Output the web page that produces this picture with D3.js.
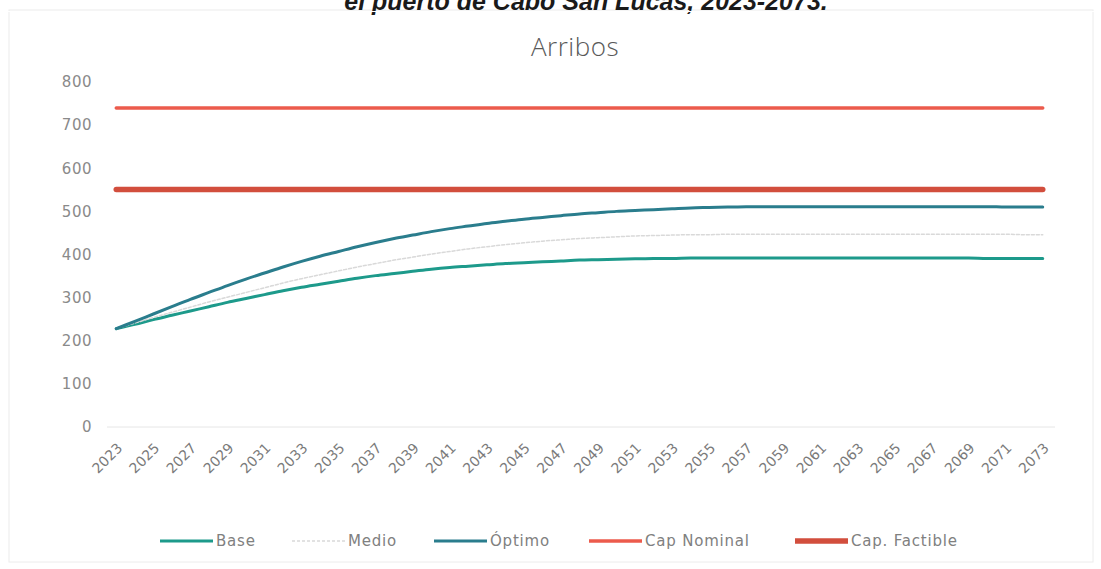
<!DOCTYPE html>
<html><head><meta charset="utf-8">
<script src="https://cdn.jsdelivr.net/npm/d3@7"></script>
<style>html,body{margin:0;padding:0;background:#fff;}svg{display:block;}</style>
</head><body>
<svg id="c" width="1101" height="569"></svg>
<script>
const years = d3.range(2023, 2074);
const tickYears = d3.range(2023, 2074, 2);
const yTicks = [0,100,200,300,400,500,600,700,800];
const base = [228,238,249,259,269,279,289,298,307,316,324,331,338,345,351,356,361,366,370,373,376,379,381,383,385,387,388,389,390,391,391,392,392,392,392,392,392,392,392,392,392,392,392,392,392,392,392,391,391,391,391];
const medio = [228,241,254,266,278,290,301,312,323,334,344,353,362,371,379,387,394,401,407,413,418,423,427,431,434,437,439,441,443,444,445,446,446,447,447,447,447,447,447,447,447,447,447,447,447,447,447,447,447,446,446];
const optimo = [228,245,262,279,296,312,328,343,357,371,384,396,407,418,428,437,445,453,460,466,472,477,482,486,490,494,497,500,502,504,506,508,509,510,511,511,511,511,511,511,511,511,511,511,511,511,511,511,510,510,510];
const capNominal = years.map(() => 740);
const capFactible = years.map(() => 551);
const seriesNames = ["Base","Medio","Óptimo","Cap Nominal","Cap. Factible"];
const seriesValues = [base, medio, optimo, capNominal, capFactible];
const colors = ["#1d9a8b","#d9d9d9","#2a7d8d","#ec5b4c","#d24e3d"];
const widths = [3,1.5,3,3.5,5.5];
const dashes = [null,"3,2",null,null,null];

const svg = d3.select("#c");
const font = "'DejaVu Sans', sans-serif";

// faint frame
svg.append("rect").attr("x",9).attr("y",10).attr("width",1084).attr("height",552)
  .attr("fill","none").attr("stroke","#ececec").attr("stroke-width",1);

// top title, partly outside the picture as in the reference
svg.append("text").attr("x",586).attr("y",10).attr("text-anchor","middle")
  .attr("font-family","'Liberation Sans', Arial, sans-serif").attr("font-weight","bold").attr("font-style","italic")
  .attr("font-size",25).attr("fill","#1a1a1a").text("el puerto de Cabo San Lucas, 2023-2073.");
svg.append("rect").attr("x",0).attr("y",11).attr("width",1101).attr("height",1).attr("fill","#fff");

svg.append("text").attr("x",575).attr("y",56).attr("text-anchor","middle")
  .attr("font-family","'Open Sans', sans-serif").attr("font-weight",300)
  .attr("font-size",26).attr("letter-spacing",0.5).attr("fill","#595959").text("Arribos");

const x = d3.scaleBand().domain(years).range([107,1052]);
const cx = d => x(d) + x.bandwidth()/2;
const y = d3.scaleLinear().domain([0,800]).range([427,82]);

// baseline
svg.append("line").attr("x1",107).attr("x2",1055).attr("y1",y(0)).attr("y2",y(0))
  .attr("stroke","#e6e6e6").attr("stroke-width",1);

// y axis
const yAxis = d3.axisLeft(y).tickValues(yTicks).tickSize(0).tickPadding(0);
const gy = svg.append("g").attr("transform","translate(92,0)").call(yAxis);
gy.select(".domain").remove();
gy.selectAll("text").attr("font-family",font).attr("font-size",15).attr("fill","#8a8a8a").attr("letter-spacing",0.5);

// x axis
const xAxis = d3.axisBottom(x).tickValues(tickYears).tickSize(0).tickPadding(0);
const gx = svg.append("g").attr("transform","translate(0,"+y(0)+")").call(xAxis);
gx.select(".domain").remove();
gx.selectAll("text").attr("font-family",font).attr("font-size",14).attr("fill","#7a7a7a")
  .attr("text-anchor","end").attr("dy",0)
  .attr("transform","translate(7,22) rotate(-45)");

// lines
const line = d3.line().x((d,i) => cx(years[i])).y(d => y(d)).curve(d3.curveMonotoneX);
seriesValues.forEach((vals,k) => {
  svg.append("path").datum(vals).attr("d",line).attr("fill","none")
    .attr("stroke",colors[k]).attr("stroke-width",widths[k])
    .attr("stroke-linecap","round").attr("stroke-linejoin","round")
    .attr("stroke-dasharray",dashes[k]);
});

// legend
const legX = [160,292,434,589,795];
const lg = svg.append("g");
seriesNames.forEach((n,k) => {
  lg.append("line").attr("x1",legX[k]).attr("x2",legX[k]+53).attr("y1",541).attr("y2",541)
    .attr("stroke",colors[k]).attr("stroke-width",widths[k]).attr("stroke-dasharray",dashes[k]);
  lg.append("text").attr("x",legX[k]+56).attr("y",541).attr("dy","0.35em")
    .attr("font-family",font).attr("font-size",15).attr("letter-spacing",0.8).attr("fill","#808080").text(n);
});
</script>
</body></html>
